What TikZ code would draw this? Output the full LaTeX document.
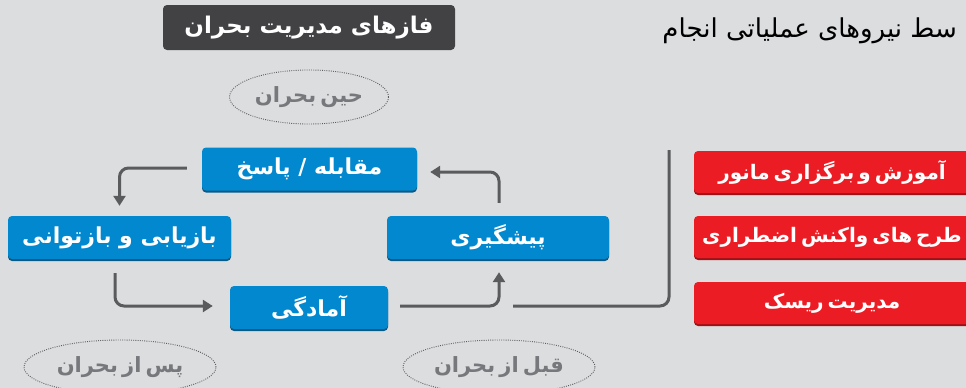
\documentclass[tikz,border=0pt]{standalone}
\usepackage{fontspec}
\usetikzlibrary{arrows.meta,shapes.geometric,calc}
\TeXXeTstate=1
\newfontfamily\fa[Script=Arabic]{DejaVu Sans}
\definecolor{bg}{HTML}{DCDDDF}
\definecolor{myblue}{HTML}{0288CF}
\definecolor{blueshade}{HTML}{0A5A86}
\definecolor{myred}{HTML}{EC1C24}
\definecolor{redshade}{HTML}{9E1217}
\definecolor{titlebg}{HTML}{424244}
\definecolor{linecol}{HTML}{5A5B5D}
\definecolor{ellcol}{HTML}{77787B}
\newcommand{\tightsp}{\spaceskip=0.2em plus 0.05em minus 0.05em\relax}
\newcommand{\fatxt}[1]{\raisebox{-2pt}{\beginR #1\endR}}
\tikzset{
  bluebox/.style={rectangle, rounded corners=4pt, fill=myblue, text=white,
    font=\fa\bfseries\fontsize{22}{26}\selectfont, inner sep=0pt, minimum height=43pt,
    preaction={fill=blueshade, transform canvas={yshift=-2pt}}},
  redbox/.style={rectangle, rounded corners=4pt, fill=myred, text=white,
    font=\fa\bfseries\fontsize{20}{24}\selectfont\tightsp, inner sep=0pt, minimum height=42pt,
    minimum width=276pt, preaction={fill=redshade, transform canvas={yshift=-2pt}}},
  phase/.style={ellipse, draw=linecol, line width=0.9pt, dash pattern=on 0.9pt off 1.3pt,
    text=ellcol, font=\fa\bfseries\fontsize{21}{26}\selectfont\tightsp, inner sep=0pt, minimum height=54pt},
  conn/.style={draw=linecol, line width=3pt, rounded corners=9pt},
  arr/.style={conn, -{Triangle[length=10pt,width=12pt]}}
}
\begin{document}
\begin{tikzpicture}[x=1pt,y=-1pt]
\useasboundingbox (0,0) rectangle (966,388);
\fill[bg] (0,0) rectangle (966,388);
% title
\node[rectangle, rounded corners=4pt, fill=titlebg, text=white, inner sep=0pt,
  minimum width=292pt, minimum height=45pt, font=\fa\bfseries\fontsize{23}{26}\selectfont]
  (title) at (309,27.5) {\fatxt{فازهای مدیریت بحران}};
% note text
\node[anchor=east, inner sep=0pt, text=black, font=\fa\fontsize{26}{30}\selectfont]
  (note) at (957,31) {\beginR سط نیروهای عملیاتی انجام\endR};
% phases
\node[phase, minimum width=159pt] (hin) at (309,97) {\fatxt{حین بحران}};
\node[phase, minimum width=192pt] (pas) at (120,367) {\fatxt{پس از بحران}};
\node[phase, minimum width=192pt] (qabl) at (499,367) {\fatxt{قبل از بحران}};
% blue boxes
\node[bluebox, minimum width=215pt] (moq) at (309.5,169) {\fatxt{مقابله / پاسخ}};
\node[bluebox, minimum width=223pt] (baz) at (119.5,237.5) {\fatxt{بازیابی و بازتوانی}};
\node[bluebox, minimum width=222pt] (pish) at (498,237.5) {\fatxt{پیشگیری}};
\node[bluebox, minimum width=158pt] (ama) at (309,307.5) {\fatxt{آمادگی}};
% red boxes
\node[redbox] (r1) at (832,172) {\fatxt{آموزش و برگزاری مانور}};
\node[redbox] (r2) at (832,237) {\fatxt{طرح های واکنش اضطراری}};
\node[redbox] (r3) at (832,303) {\fatxt{مدیریت ریسک}};
% arrows
\draw[arr] ([xshift=-15pt,yshift=1pt]moq.west) -| ([yshift=10pt]baz.north);
\draw[arr] ([xshift=-4.5pt,yshift=-14pt]baz.south) |- ([xshift=-17pt,yshift=1.5pt]ama.west);
\draw[arr] ([xshift=12pt,yshift=1.5pt]ama.east) -| ([xshift=1pt,yshift=-13pt]pish.south);
\draw[arr] ([xshift=1pt,yshift=13pt]pish.north) |- ([xshift=13pt,yshift=-3pt]moq.east);
% bracket
\coordinate (brA) at (513,306);
\coordinate (brB) at (669,150);
\draw[conn] (brA) -| (brB);
\end{tikzpicture}
\end{document}
